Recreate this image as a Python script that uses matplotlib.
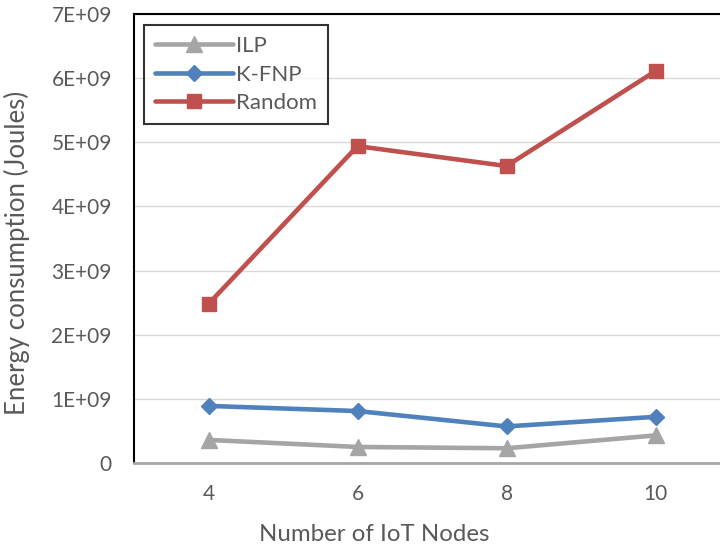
import matplotlib
matplotlib.use('Agg')
import matplotlib.pyplot as plt
import numpy as np

plt.rcParams['font.family'] = ['Lato', 'DejaVu Sans']

nodes = ['4', '6', '8', '10']
ilp = [0.36e9, 0.25e9, 0.23e9, 0.43e9]
kfnp = [0.89e9, 0.81e9, 0.57e9, 0.72e9]
rand = [2.48e9, 4.94e9, 4.63e9, 6.11e9]
yticks = [0, 1e9, 2e9, 3e9, 4e9, 5e9, 6e9, 7e9]
ytick_labels = ['0', '1E+09', '2E+09', '3E+09', '4E+09', '5E+09', '6E+09', '7E+09']

txt = '#595959'

fig = plt.figure(figsize=(7.2, 5.48), dpi=100)
ax = fig.add_axes([134/720, 85/548, 596/720, 449/548])

x = np.arange(len(nodes))
ax.plot(x, ilp, color='#A5A5A5', lw=3.3, marker='^', ms=11, label='ILP', solid_capstyle='round')
ax.plot(x, kfnp, color='#4F81BD', lw=3.3, marker='D', ms=8.5, label='K-FNP', solid_capstyle='round')
ax.plot(x, rand, color='#C0504D', lw=3.3, marker='s', ms=10, label='Random', solid_capstyle='round')

ax.set_xlim(-0.5, 3.5)
ax.set_ylim(0, 7e9)
ax.set_xticks(x)
ax.set_xticklabels(nodes)
ax.set_yticks(yticks)
ax.set_yticklabels(ytick_labels)
ax.tick_params(axis='both', length=0, labelsize=15, colors=txt)
ax.tick_params(axis='x', pad=15)
ax.tick_params(axis='y', pad=16)
ax.grid(axis='y', color='#D9D9D9', lw=1)
ax.set_axisbelow(True)

ax.spines['right'].set_visible(False)
ax.spines['left'].set_color('black')
ax.spines['left'].set_linewidth(1.5)
ax.spines['top'].set_color('black')
ax.spines['top'].set_linewidth(1.5)
ax.spines['bottom'].set_color('#A6A6A6')
ax.spines['bottom'].set_linewidth(2)

ax.set_xlabel('Number of IoT Nodes', fontsize=17.3, color=txt)
ax.xaxis.set_label_coords((374 - 134) / 596, (463 - 524) / 449)
ax.set_ylabel('Energy consumption (Joules)', fontsize=18.5, color=txt)
ax.yaxis.set_label_coords((30 - 134) / 596, (463 - 253) / 449)

leg = ax.legend(loc='upper left', bbox_to_anchor=(10/596, 1 - 11/449), fontsize=16,
                frameon=True, fancybox=False, edgecolor='black', handlelength=3.5,
                handletextpad=0.12, borderpad=0.5, labelspacing=0.38, borderaxespad=0)
leg.get_frame().set_linewidth(1.5)
for t in leg.get_texts():
    t.set_color(txt)

plt.savefig('out.png', dpi=100)
